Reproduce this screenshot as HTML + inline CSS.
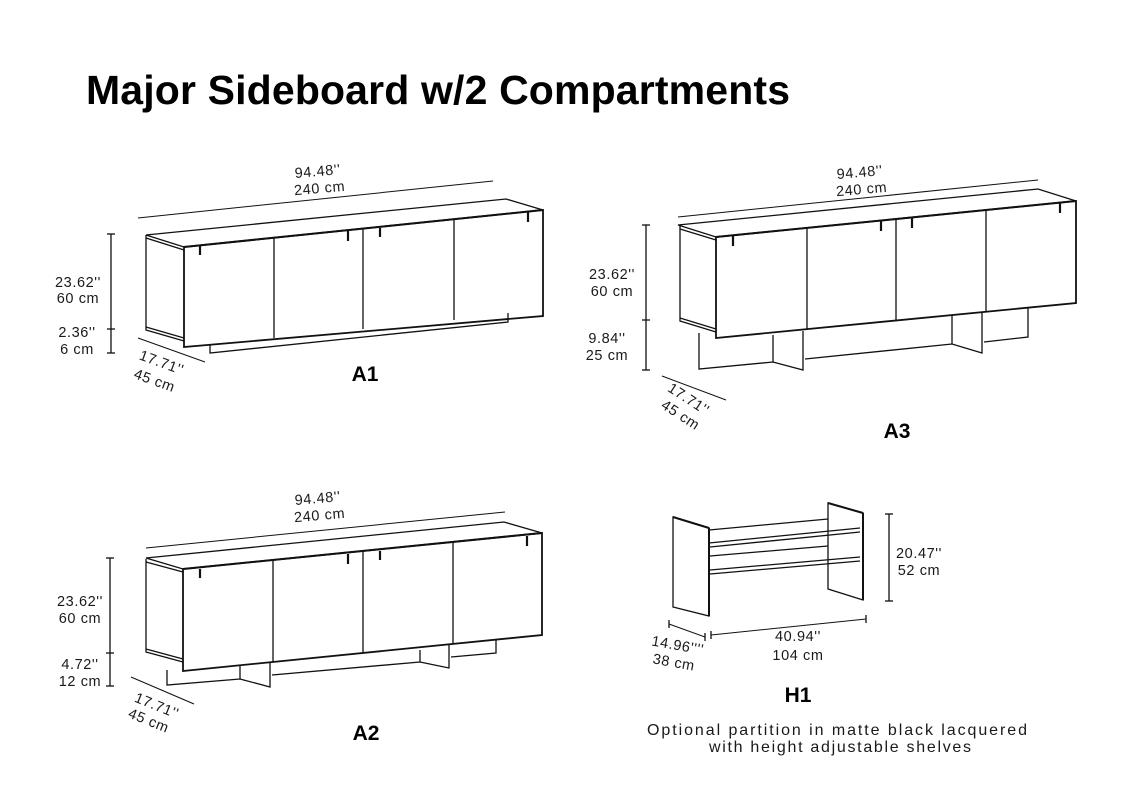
<!DOCTYPE html>
<html><head><meta charset="utf-8"><style>
html,body{margin:0;padding:0;background:#fff;}
svg{display:block}
text{font-family:"Liberation Sans",sans-serif;fill:#1a1a1a}
.d{font-size:14.5px;letter-spacing:0.6px}
.l{font-size:21px;font-weight:bold;text-anchor:middle;fill:#000}
</style></head><body>
<svg width="1136" height="800" viewBox="0 0 1136 800" xmlns="http://www.w3.org/2000/svg">
<text x="86" y="104" textLength="704" lengthAdjust="spacing" style="font-size:41px;font-weight:bold;fill:#000">Major Sideboard w/2 Compartments</text>

<g stroke="#111" fill="none" stroke-width="1.3">
<!-- A1 -->
<polygon points="146,235 506,199 543,210 184,247" fill="#fff"/>
<line x1="184" y1="247" x2="543" y2="210" stroke-width="2"/>
<polyline points="146,235 146,330 184,341"/>
<line x1="146" y1="238" x2="184" y2="250"/>
<line x1="146" y1="327" x2="184" y2="338"/>
<polygon points="184,247 543,210 543,316 184,347" stroke-width="1.8"/>
<line x1="274" y1="237" x2="274" y2="338"/>
<line x1="363" y1="228" x2="363" y2="329"/>
<line x1="454" y1="219" x2="454" y2="320"/>
<g stroke-width="2.2"><line x1="200" y1="246" x2="200" y2="255"/><line x1="348" y1="231" x2="348" y2="241"/><line x1="380" y1="228" x2="380" y2="237"/><line x1="528" y1="212" x2="528" y2="222"/></g>
<polyline points="210,345 210,353 508,322 508,313"/>
<line x1="138" y1="218" x2="493" y2="181" stroke-width="1"/>
<line x1="111" y1="234" x2="111" y2="353"/>
<line x1="107" y1="234" x2="115" y2="234"/><line x1="107" y1="329" x2="115" y2="329"/><line x1="107" y1="353" x2="115" y2="353"/>
<line x1="138" y1="338" x2="205" y2="362" stroke-width="1"/>

<!-- A3 -->
<polygon points="678,225 1038,189 1076,201 716,237" fill="#fff"/>
<line x1="716" y1="237" x2="1076" y2="201" stroke-width="2"/>
<polyline points="680,226 680,321 716,332"/>
<line x1="680" y1="229" x2="716" y2="240"/>
<line x1="680" y1="318" x2="716" y2="329"/>
<polygon points="716,237 1076,201 1076,303 716,338" stroke-width="1.8"/>
<line x1="807" y1="228" x2="807" y2="329"/>
<line x1="896" y1="219" x2="896" y2="320"/>
<line x1="986" y1="210" x2="986" y2="312"/>
<g stroke-width="2.2"><line x1="733" y1="236" x2="733" y2="246"/><line x1="881" y1="221" x2="881" y2="231"/><line x1="912" y1="218" x2="912" y2="228"/><line x1="1060" y1="203" x2="1060" y2="213"/></g>
<polyline points="699,333 699,369 773,362 803,370 803,331"/>
<line x1="773" y1="362" x2="773" y2="335"/>
<polyline points="805,359 952,344 982,353 982,313"/>
<line x1="952" y1="344" x2="952" y2="315"/>
<polyline points="984,342 1028,337 1028,307"/>
<line x1="678" y1="217" x2="1038" y2="180" stroke-width="1"/>
<line x1="646" y1="225" x2="646" y2="370"/>
<line x1="642" y1="225" x2="650" y2="225"/><line x1="642" y1="320" x2="650" y2="320"/><line x1="642" y1="370" x2="650" y2="370"/>
<line x1="662" y1="376" x2="726" y2="400" stroke-width="1"/>

<!-- A2 -->
<polygon points="146,558 504,522 542,533 183,569" fill="#fff"/>
<line x1="183" y1="569" x2="542" y2="533" stroke-width="2"/>
<polyline points="146,559 146,652 183,662"/>
<line x1="146" y1="562" x2="183" y2="572"/>
<line x1="146" y1="649" x2="183" y2="659"/>
<polygon points="183,569 542,533 542,635 183,671" stroke-width="1.8"/>
<line x1="273" y1="560" x2="273" y2="662"/>
<line x1="363" y1="551" x2="363" y2="653"/>
<line x1="453" y1="542" x2="453" y2="644"/>
<g stroke-width="2.2"><line x1="200" y1="569" x2="200" y2="578"/><line x1="348" y1="554" x2="348" y2="564"/><line x1="380" y1="551" x2="380" y2="560"/><line x1="527" y1="536" x2="527" y2="546"/></g>
<polyline points="167,670 167,685 240,679 270,687 270,663"/>
<line x1="240" y1="679" x2="240" y2="666"/>
<polyline points="272,675 420,662 449,668 449,645"/>
<line x1="420" y1="662" x2="420" y2="650"/>
<polyline points="451,657 496,653 496,640"/>
<line x1="146" y1="548" x2="505" y2="512" stroke-width="1"/>
<line x1="110" y1="558" x2="110" y2="686"/>
<line x1="106" y1="558" x2="114" y2="558"/><line x1="106" y1="653" x2="114" y2="653"/><line x1="106" y1="686" x2="114" y2="686"/>
<line x1="131" y1="677" x2="194" y2="704" stroke-width="1"/>

<!-- H1 -->
<polyline points="709,530 828,519"/>
<line x1="709" y1="543" x2="860" y2="528"/>
<line x1="710" y1="547" x2="860" y2="532"/>
<line x1="710" y1="556" x2="828" y2="546"/>
<line x1="710" y1="570" x2="860" y2="557"/>
<line x1="710" y1="574" x2="860" y2="561"/>
<polygon points="673,517 709,528 709,616 673,607" fill="#fff"/>
<line x1="673" y1="517" x2="709" y2="528" stroke-width="2"/>
<line x1="709" y1="528" x2="709" y2="616" stroke-width="2"/>
<polygon points="828,503 863,513 863,600 828,589"/>
<line x1="828" y1="503" x2="863" y2="513" stroke-width="2"/>
<line x1="863" y1="513" x2="863" y2="600" stroke-width="2"/>
<line x1="889" y1="514" x2="889" y2="601"/>
<line x1="885" y1="514" x2="893" y2="514"/><line x1="885" y1="601" x2="893" y2="601"/>
<line x1="711" y1="635" x2="866" y2="619" stroke-width="1"/>
<line x1="711" y1="631" x2="711" y2="639"/><line x1="866" y1="615" x2="866" y2="623"/>
<line x1="669" y1="624" x2="705" y2="637" stroke-width="1"/>
<line x1="669" y1="620" x2="669" y2="628"/><line x1="705" y1="633" x2="705" y2="641"/>
</g>

<!-- labels -->
<g class="d" text-anchor="middle">
<text transform="translate(318,176) rotate(-5)">94.48''</text>
<text transform="translate(320,193) rotate(-5)">240 cm</text>
<text x="78" y="287">23.62''</text><text x="78" y="303">60 cm</text>
<text x="77" y="337">2.36''</text><text x="77" y="354">6 cm</text>
<text transform="translate(160,367) rotate(20)">17.71''</text>
<text transform="translate(153,385) rotate(20)">45 cm</text>

<text transform="translate(860,177) rotate(-5)">94.48''</text>
<text transform="translate(862,194) rotate(-5)">240 cm</text>
<text x="612" y="279">23.62''</text><text x="612" y="296">60 cm</text>
<text x="607" y="343">9.84''</text><text x="607" y="360">25 cm</text>
<text transform="translate(686,403) rotate(33)">17.71''</text>
<text transform="translate(678,419) rotate(33)">45 cm</text>

<text transform="translate(318,503) rotate(-5)">94.48''</text>
<text transform="translate(320,520) rotate(-5)">240 cm</text>
<text x="80" y="606">23.62''</text><text x="80" y="623">60 cm</text>
<text x="80" y="669">4.72''</text><text x="80" y="686">12 cm</text>
<text transform="translate(155,710) rotate(22)">17.71''</text>
<text transform="translate(147,725) rotate(22)">45 cm</text>

<text x="798" y="641">40.94''</text><text x="798" y="660">104 cm</text>
<text transform="translate(677,650) rotate(10)">14.96''''</text>
<text transform="translate(673,667) rotate(10)">38 cm</text>
<text x="919" y="558">20.47''</text><text x="919" y="575">52 cm</text>
</g>
<text x="647" y="735" textLength="380" lengthAdjust="spacing" style="font-size:16px">Optional partition in matte black lacquered</text>
<text x="709" y="752" textLength="262" lengthAdjust="spacing" style="font-size:16px">with height adjustable shelves</text>
<text class="l" x="365" y="381">A1</text>
<text class="l" x="897" y="438">A3</text>
<text class="l" x="366" y="740">A2</text>
<text class="l" x="798" y="702">H1</text>
</svg>
</body></html>
